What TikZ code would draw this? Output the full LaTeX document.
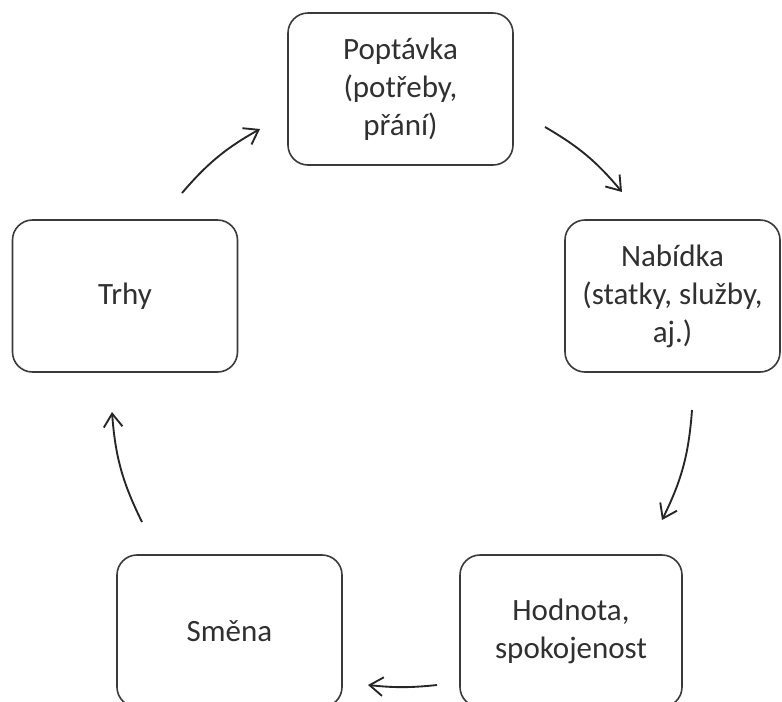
\documentclass[tikz,border=0pt]{standalone}
\usepackage{fontspec}
\setmainfont{Carlito}
\usetikzlibrary{arrows.meta}
\definecolor{txt}{HTML}{303030}
\definecolor{edge}{HTML}{3A3A3A}
\begin{document}
\begin{tikzpicture}[x=0.75pt,y=0.75pt,
  box/.style={draw=edge, line width=1.2pt, rounded corners=15pt, fill=white,
    minimum width=168.75pt, minimum height=114pt, align=center, text=txt,
    font=\fontsize{23.25}{28.5}\selectfont, inner sep=0pt},
  flow/.style={draw=black!85, line width=1.4pt,
    -{Straight Barb[length=10pt,width=14pt]}}]
\clip (0,0) rectangle (782,-701);
\fill[white] (0,0) rectangle (782,-701);

\node[box] (pop) at (400.5,-89) {Poptávka\\(potřeby,\\přání)};
\node[box, minimum width=161.25pt] (nab) at (672.5,-296) {Nabídka\\(statky, služby,\\aj.)};
\node[box, minimum width=166.5pt] (hod) at (571,-631) {Hodnota,\\spokojenost};
\node[box] (sme) at (229.5,-631) {Směna};
\node[box] (trh) at (125,-296) {Trhy};

\coordinate (a1) at (182,-193); \coordinate (b1) at (260,-129);
\coordinate (a2) at (545,-127); \coordinate (b2) at (622,-192);
\coordinate (a3) at (692,-410); \coordinate (b3) at (662,-520);
\coordinate (a4) at (437,-685); \coordinate (b4) at (368,-685);
\coordinate (a5) at (142,-522); \coordinate (b5) at (112,-412);

\draw[flow] (a1) to[bend left=10] (b1);
\draw[flow] (a2) to[bend left=10] (b2);
\draw[flow] (a3) to[bend left=11] (b3);
\draw[flow] (a4) to[bend left=6] (b4);
\draw[flow] (a5) to[bend left=11] (b5);
\end{tikzpicture}
\end{document}
